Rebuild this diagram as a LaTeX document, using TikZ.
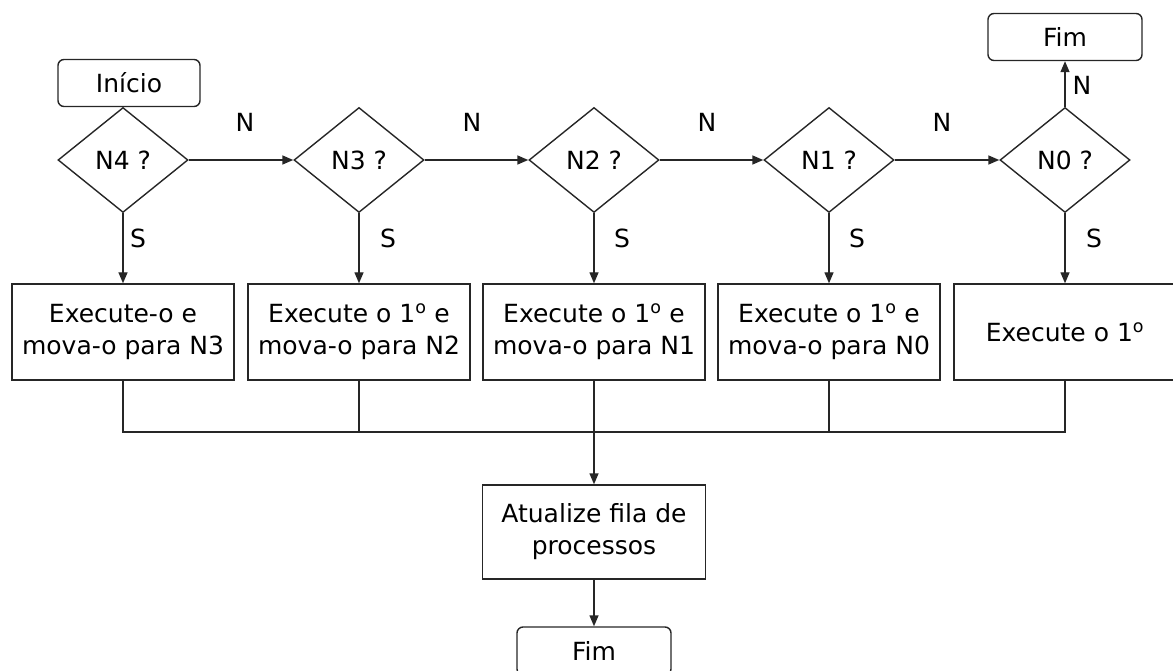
\documentclass[tikz,border=0pt]{standalone}
\usepackage{fontspec}
\setmainfont{DejaVu Sans}
\usetikzlibrary{shapes.geometric,arrows.meta}
\newcommand{\ordo}{\textsuperscript{o}}
\begin{document}
\begin{tikzpicture}[x=1pt,y=-1pt,
  line width=1.4pt, draw=black!85,
  every node/.style={font=\fontsize{25}{32}\selectfont, text=black},
  decision/.style={diamond, draw, minimum width=130pt, minimum height=105pt, inner sep=0pt},
  procbox/.style={rectangle, draw, minimum width=222pt, minimum height=96pt, align=center, inner sep=2pt},
  term/.style={rectangle, rounded corners=6pt, draw, minimum height=47pt, inner sep=0pt},
  lbl/.style={inner sep=0pt},
  arr/.style={-{Triangle[length=11pt,width=9pt]}}]
\useasboundingbox (0,0) rectangle (1173,671);

% terminals
\node[term, minimum width=142pt] (start) at (129,83) {Início};
\node[term, minimum width=154pt] (endtop) at (1065,37) {Fim};

% decisions
\node[decision] (d4) at (123,160) {N4 ?};
\node[decision] (d3) at (359,160) {N3 ?};
\node[decision] (d2) at (594,160) {N2 ?};
\node[decision] (d1) at (829,160) {N1 ?};
\node[decision] (d0) at (1065,160) {N0 ?};

% process boxes
\node[procbox] (b4) at (123,332) {Execute-o e\\mova-o para N3};
\node[procbox] (b3) at (359,332) {Execute o 1\ordo{} e\\mova-o para N2};
\node[procbox] (b2) at (594,332) {Execute o 1\ordo{} e\\mova-o para N1};
\node[procbox] (b1) at (829,332) {Execute o 1\ordo{} e\\mova-o para N0};
\node[procbox] (b0) at (1065,332) {Execute o 1\ordo};

\node[procbox, minimum width=223pt, minimum height=94pt] (upd) at (594,532) {Atualize fila de\\processos};
\node[term, minimum width=154pt, minimum height=48pt] (endbot) at (594,651) {Fim};

\coordinate (bus) at (594,432);

% N connectors
\draw[arr] (d4.east) -- (d3.west);
\draw[arr] (d3.east) -- (d2.west);
\draw[arr] (d2.east) -- (d1.west);
\draw[arr] (d1.east) -- (d0.west);
\draw[arr] (d0.north) -- (endtop.south);

% S connectors
\draw[arr] (d4.south) -- (b4.north);
\draw[arr] (d3.south) -- (b3.north);
\draw[arr] (d2.south) -- (b2.north);
\draw[arr] (d1.south) -- (b1.north);
\draw[arr] (d0.south) -- (b0.north);

% collector bus
\draw (b4.south) -- (b4.south |- bus) -- (b0.south |- bus) -- (b0.south);
\draw (b3.south) -- (b3.south |- bus);
\draw (b1.south) -- (b1.south |- bus);
\draw (b2.south) -- (bus);
\draw[arr] (bus) -- (upd.north);
\draw[arr] (upd.south) -- (endbot.north);

% labels
\node[lbl] (n43) at (245,122) {N};
\node[lbl] (n32) at (472,122) {N};
\node[lbl] (n21) at (707,122) {N};
\node[lbl] (n10) at (942,122) {N};
\node[lbl] (n0f) at (1082,85) {N};
\node[lbl] (s4) at (138,238) {S};
\node[lbl] (s3) at (388,238) {S};
\node[lbl] (s2) at (622,238) {S};
\node[lbl] (s1) at (857,238) {S};
\node[lbl] (s0) at (1094,238) {S};
\end{tikzpicture}
\end{document}
